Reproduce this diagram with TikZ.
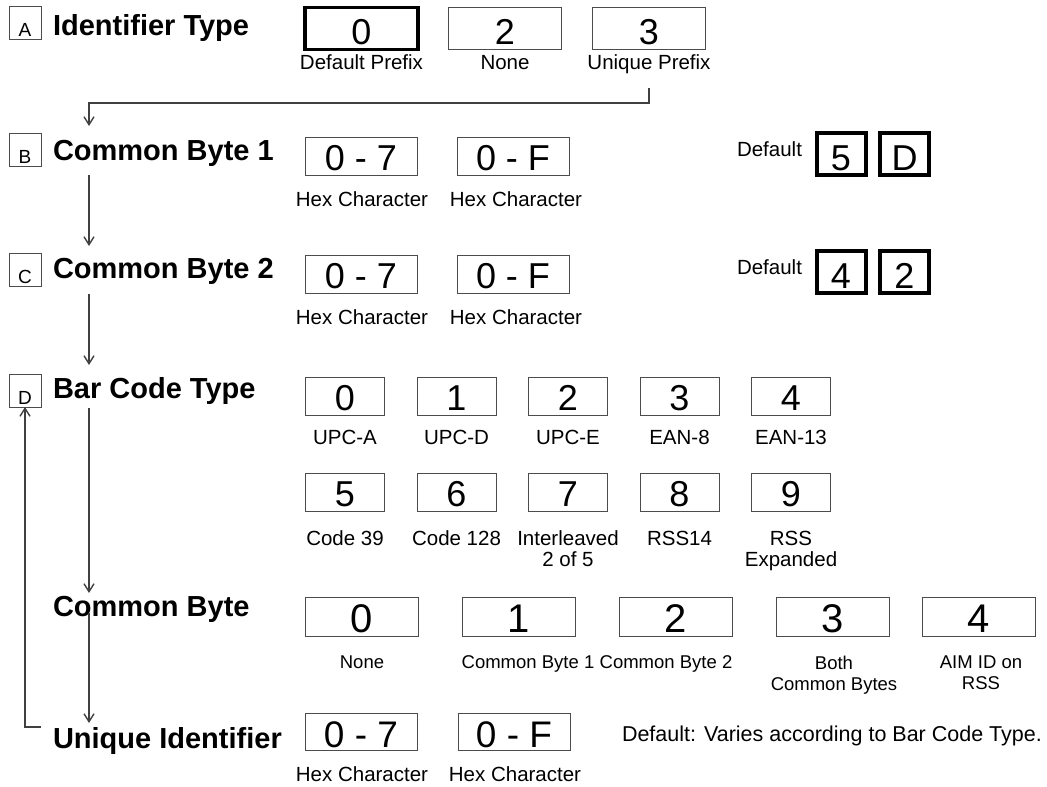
\documentclass[tikz,border=0pt]{standalone}
\usepackage{fontspec}
\setmainfont{Liberation Sans}
\usetikzlibrary{arrows.meta}
\begin{document}
\begin{tikzpicture}[x=1pt,y=-1pt,
  every node/.style={inner sep=0pt, outer sep=0pt},
  head/.style={anchor=north west, font=\fontsize{29}{32}\selectfont\bfseries},
  lab/.style={anchor=north, align=center, font=\fontsize{20.5}{21}\selectfont},
  slab/.style={anchor=north, align=center, font=\fontsize{18.5}{21}\selectfont},
  lbox/.style={draw=black!70, line width=1pt, anchor=north west, minimum width=32pt, minimum height=33pt, text height=27pt, text depth=0pt, font=\fontsize{19}{20}\selectfont},
  nb/.style={draw=black!70, line width=1pt, text depth=0pt, font=\fontsize{36}{36}\selectfont},
  szA/.style={minimum width=113pt, minimum height=42pt, text height=31pt},
  szB/.style={minimum width=112pt, minimum height=38pt, text height=29pt},
  szDef/.style={minimum width=49pt, minimum height=42pt, text height=32pt, draw=black, line width=4pt},
  szD/.style={minimum width=79pt, minimum height=38pt, text height=29pt},
  szCB/.style={minimum width=113pt, minimum height=39pt, text height=32pt, font=\fontsize{40}{40}\selectfont},
  szU/.style={minimum width=112pt, minimum height=37pt, text height=31pt, font=\fontsize{37}{37}\selectfont},
  conn/.style={draw=black!75, line width=1.1pt, -{Straight Barb[length=8pt,width=10pt,line width=1.4pt]}},
]
\useasboundingbox (0,0) rectangle (1047,787);

% ---- Row A
\node[lbox] (kA) at (9,6) {A};
\node[head] (hA) at (53,14) {Identifier Type};
\node[nb,szA,draw=black,line width=3.5pt] (a0) at (361.5,28.5) {0};
\node[nb,szA] (a2) at (505,28.5) {2};
\node[nb,szA] (a3) at (649,28.5) {3};
\node[lab] (la0) at (361.5,55) {Default Prefix};
\node[lab] (la2) at (505,55) {None};
\node[lab] (la3) at (649,55) {Unique Prefix};

% ---- Row B
\node[lbox] (kB) at (9,133) {B};
\node[head] (hB) at (53,140) {Common Byte 1};
\node[nb,szB] (b1) at (361,156) {0 - 7};
\node[nb,szB] (b2) at (513,156) {0 - F};
\node[lab] (lb1) at (362,192) {Hex Character};
\node[lab] (lb2) at (516,192) {Hex Character};
\node[lab,anchor=north west] (db) at (737,142) {Default};
\node[nb,szDef] (b5) at (841,154) {5};
\node[nb,szDef] (bD) at (904.5,154) {D};

% ---- Row C
\node[lbox] (kC) at (9,253) {C};
\node[head] (hC) at (53,258) {Common Byte 2};
\node[nb,szB] (c1) at (361,274) {0 - 7};
\node[nb,szB] (c2) at (513,274) {0 - F};
\node[lab] (lc1) at (362,310) {Hex Character};
\node[lab] (lc2) at (516,310) {Hex Character};
\node[lab,anchor=north west] (dc) at (737,260) {Default};
\node[nb,szDef] (c4) at (841,272) {4};
\node[nb,szDef] (c2d) at (904.5,272) {2};

% ---- Row D
\node[lbox] (kD) at (9,374) {D};
\node[head] (hD) at (53,377) {Bar Code Type};
\node[nb,szD] (d0) at (345,396) {0};
\node[nb,szD] (d1) at (456.5,396) {1};
\node[nb,szD] (d2) at (568,396) {2};
\node[nb,szD] (d3) at (679.5,396) {3};
\node[nb,szD] (d4) at (791,396) {4};
\node[lab] (ld0) at (345,430) {UPC-A};
\node[lab] (ld1) at (456.5,430) {UPC-D};
\node[lab] (ld2) at (568,430) {UPC-E};
\node[lab] (ld3) at (679.5,430) {EAN-8};
\node[lab] (ld4) at (791,430) {EAN-13};
\node[nb,szD] (d5) at (345,492) {5};
\node[nb,szD] (d6) at (456.5,492) {6};
\node[nb,szD] (d7) at (568,492) {7};
\node[nb,szD] (d8) at (679.5,492) {8};
\node[nb,szD] (d9) at (791,492) {9};
\node[lab] (ld5) at (345,531) {Code 39};
\node[lab] (ld6) at (456.5,531) {Code 128};
\node[lab] (ld7) at (568,531) {Interleaved\\2 of 5};
\node[lab] (ld8) at (679.5,531) {RSS14};
\node[lab] (ld9) at (791,531) {RSS\\Expanded};

% ---- Common Byte
\node[head] (hE) at (53,596) {Common Byte};
\node[nb,szCB] (e0) at (362,616.5) {0};
\node[nb,szCB] (e1) at (519,616.5) {1};
\node[nb,szCB] (e2) at (676,616.5) {2};
\node[nb,szCB] (e3) at (833,616.5) {3};
\node[nb,szCB] (e4) at (979,616.5) {4};
\node[slab] (le0) at (362,656) {None};
\node[slab] (le1) at (528,656) {Common Byte 1};
\node[slab] (le2) at (666,656) {Common Byte 2};
\node[slab] (le3) at (834,656) {Both\\Common Bytes};
\node[slab] (le4) at (981,656) {AIM ID on\\RSS};

% ---- Unique Identifier
\node[head] (hF) at (53,727) {Unique Identifier};
\node[nb,szU] (f1) at (361,731.5) {0 - 7};
\node[nb,szU] (f2) at (514,731.5) {0 - F};
\node[lab] (lf1) at (362,767) {Hex Character};
\node[lab] (lf2) at (515,767) {Hex Character};
\node[lab,anchor=north west,font=\fontsize{21.5}{22}\selectfont] (df) at (622,726) {Default: Varies according to Bar Code Type.};

% ---- connectors
\coordinate (sA) at (649,88);
\coordinate (tB) at (89,126);
\coordinate (sB) at (89,175);
\coordinate (tC) at (89,246);
\coordinate (sC) at (89,294);
\coordinate (tD) at (89,365);
\coordinate (sD) at (89,408);
\coordinate (tE) at (89,593);
\coordinate (sE) at (89,613);
\coordinate (tF) at (89,723);
\coordinate (sF) at (41,727);
\draw[conn] (sA) |- (89,103) -- (tB);
\draw[conn] (sB) -- (tC);
\draw[conn] (sC) -- (tD);
\draw[conn] (sD) -- (tE);
\draw[conn] (sE) -- (tF);
\draw[conn] (sF) -| (kD.south);
\end{tikzpicture}
\end{document}
